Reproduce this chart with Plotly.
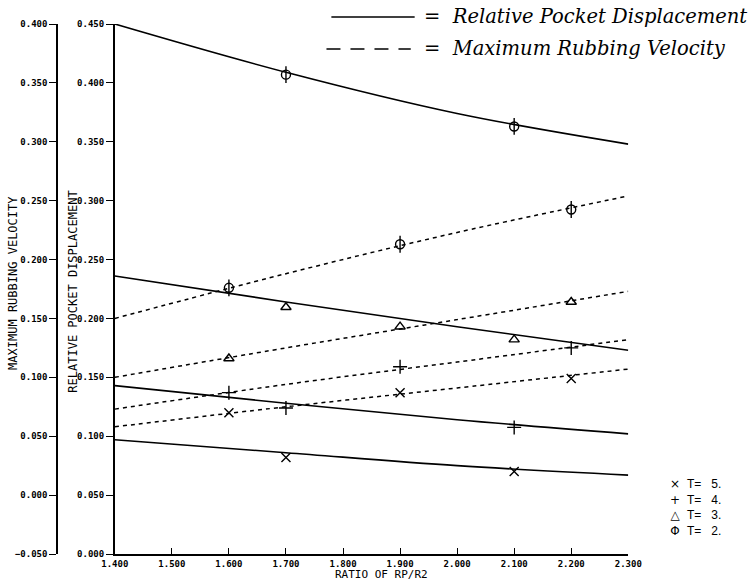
import plotly.graph_objects as go

# ---- data -------------------------------------------------------------
ratio_line = [1.4, 1.7, 2.0, 2.3]          # RP/R2 points along each curve
t_labels = ["5.", "4.", "3.", "2."]

# relative pocket displacement curves (solid), keyed by T
disp_T2 = [0.450, 0.409, 0.374, 0.348]
disp_T3 = [0.236, 0.214, 0.193, 0.173]
disp_T4 = [0.143, 0.128, 0.114, 0.102]
disp_T5 = [0.097, 0.086, 0.075, 0.067]

# maximum rubbing velocity curves (dashed), keyed by T
vel_T2 = [0.150, 0.188, 0.223, 0.254]
vel_T3 = [0.100, 0.125, 0.149, 0.173]
vel_T4 = [0.073, 0.094, 0.113, 0.132]
vel_T5 = [0.058, 0.075, 0.091, 0.107]

# symbol positions on the curves
disp_mark_x = [1.7, 2.1]
disp_mark_T2 = [0.407, 0.363]
disp_mark_T3 = [0.2095, 0.182]
disp_mark_T4 = [0.124, 0.1075]
disp_mark_T5 = [0.082, 0.070]

vel_mark_x = [1.6, 1.9, 2.2]
vel_mark_T2 = [0.176, 0.213, 0.2425]
vel_mark_T3 = [0.116, 0.143, 0.164]
vel_mark_T4 = [0.087, 0.109, 0.125]
vel_mark_T5 = [0.070, 0.087, 0.099]

x_ticks = [1.4, 1.5, 1.6, 1.7, 1.8, 1.9, 2.0, 2.1, 2.2, 2.3]
disp_ticks = [0.0, 0.05, 0.10, 0.15, 0.20, 0.25, 0.30, 0.35, 0.40, 0.45]
vel_ticks = [-0.05, 0.0, 0.05, 0.10, 0.15, 0.20, 0.25, 0.30, 0.35, 0.40]

# ---- page geometry (pixels) ------------------------------------------
FIG_W, FIG_H = 753, 581
L, R, T, B = 57, 0, 24, 27
PW = FIG_W - L - R
PH = FIG_H - T - B


def px(x):
    return (x - L) / PW


def py(y):
    return (FIG_H - B - y) / PH


INK = "black"
TICK_FONT = dict(family="DejaVu Sans Mono", size=9, color=INK, weight="bold")
LABEL_FONT = dict(family="DejaVu Sans Mono", size=12, color=INK)

fig = go.Figure()

solid = [disp_T2, disp_T3, disp_T4, disp_T5]
dashed = [vel_T2, vel_T3, vel_T4, vel_T5]
for ys in solid:
    fig.add_trace(go.Scatter(x=ratio_line, y=ys, mode="lines", yaxis="y",
                             line=dict(color=INK, width=1.6, shape="spline"),
                             hoverinfo="skip", showlegend=False))
for ys in dashed:
    fig.add_trace(go.Scatter(x=ratio_line, y=ys, mode="lines", yaxis="y2",
                             line=dict(color=INK, width=1.5, dash="4px,4px",
                                       shape="spline"),
                             hoverinfo="skip", showlegend=False))

# curve identification symbols
symbols = {
    "T5": ["x-thin-open"],
    "T4": ["cross-thin-open"],
    "T3": ["triangle-up-open"],
    "T2": ["circle-open", "line-ns-open"],
}
sizes = {"circle-open": 9, "line-ns-open": 12, "x-thin-open": 9,
         "cross-thin-open": 10, "triangle-up-open": 9}

marks = [
    ("T2", disp_mark_T2, vel_mark_T2),
    ("T3", disp_mark_T3, vel_mark_T3),
    ("T4", disp_mark_T4, vel_mark_T4),
    ("T5", disp_mark_T5, vel_mark_T5),
]
for key, dvals, vvals in marks:
    for sym in symbols[key]:
        mk = dict(symbol=sym, size=sizes[sym], color=INK,
                  line=dict(color=INK, width=1.4))
        fig.add_trace(go.Scatter(x=disp_mark_x, y=dvals, mode="markers",
                                 yaxis="y", marker=mk, hoverinfo="skip",
                                 showlegend=False))
        fig.add_trace(go.Scatter(x=vel_mark_x, y=vvals, mode="markers",
                                 yaxis="y2", marker=mk, hoverinfo="skip",
                                 showlegend=False))

x0_dom = px(116)
x1_dom = px(640)

fig.update_layout(
    width=FIG_W, height=FIG_H,
    margin=dict(l=L, r=R, t=T, b=B, pad=0),
    paper_bgcolor="white", plot_bgcolor="white",
    showlegend=False,
    xaxis=dict(domain=[x0_dom, x1_dom], range=[1.4, 2.3],
               tickvals=x_ticks, tickformat=".3f", ticks="inside",
               ticklen=6, tickwidth=1.2, tickcolor=INK, tickfont=TICK_FONT,
               showline=True, linecolor=INK, linewidth=1.6,
               showgrid=False, zeroline=False, anchor="y"),
    yaxis=dict(range=[0, 0.45], tickvals=disp_ticks, tickformat=".3f",
               ticks="outside", ticklen=7, tickwidth=1.2, tickcolor=INK,
               tickfont=TICK_FONT, showline=True, linecolor=INK,
               linewidth=1.6, showgrid=False, zeroline=False,
               anchor="x", side="left"),
    yaxis2=dict(range=[-0.05, 0.40], tickvals=vel_ticks, tickformat=".3f",
                ticks="outside", ticklen=7, tickwidth=1.2, tickcolor=INK,
                tickfont=TICK_FONT, showline=True, linecolor=INK,
                linewidth=1.6, showgrid=False, zeroline=False,
                overlaying="y", anchor="free", position=0, side="left"),
)

ann = []
# axis titles
ann.append(dict(text="MAXIMUM RUBBING VELOCITY", x=px(12), y=py(283),
                textangle=-90, font=LABEL_FONT))
ann.append(dict(text="RELATIVE POCKET DISPLACEMENT", x=px(73), y=py(292),
                textangle=-90, font=LABEL_FONT))
ann.append(dict(text="RATIO OF RP/R2", x=px(388), y=py(574),
                font=dict(family="DejaVu Sans Mono", size=11, color=INK)))

# line-style key at the top
key_font = dict(family="DejaVu Serif", size=19.5, color=INK)
ann.append(dict(text="=  <i>Relative Pocket Displacement</i>", x=px(429),
                y=py(17), xanchor="left", font=key_font))
ann.append(dict(text="=  <i>Maximum Rubbing Velocity</i>", x=px(429),
                y=py(49), xanchor="left", font=key_font))

# symbol key for T at the lower right
ann.append(dict(text="\u00d7<br>+<br>\u25b3<br>\u03a6", x=px(688), y=py(507),
                align="center",
                font=dict(family="DejaVu Sans", size=12, color=INK)))
ann.append(dict(text="<br>".join("T=\u00a0\u00a0\u00a0" + lab
                                 for lab in t_labels),
                x=px(698), y=py(507), xanchor="left", align="left",
                font=dict(family="Liberation Sans", size=12, color=INK)))

for a in ann:
    a.setdefault("xanchor", "center")
    a.update(xref="paper", yref="paper", showarrow=False, yanchor="middle")
fig.update_layout(annotations=ann)

fig.update_layout(shapes=[
    dict(type="line", xref="paper", yref="paper", x0=px(337), x1=px(422),
         y0=py(17), y1=py(17), line=dict(color=INK, width=1.6)),
    dict(type="line", xref="paper", yref="paper", x0=px(332), x1=px(418),
         y0=py(49), y1=py(49), line=dict(color=INK, width=1.6,
                                         dash="14px,10px")),
])

fig.write_html("out.html")
